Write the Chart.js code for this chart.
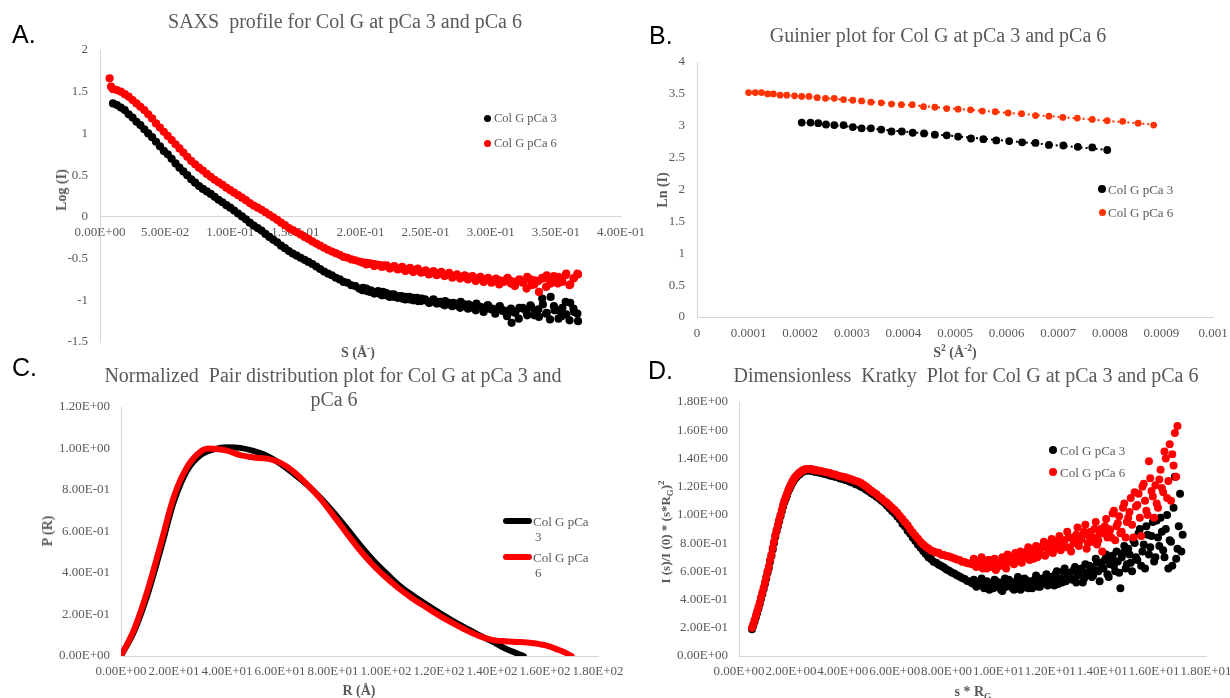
<!DOCTYPE html>
<html>
<head>
<meta charset="utf-8">
<script src="https://cdn.jsdelivr.net/npm/chart.js@4.4.1/dist/chart.umd.min.js"></script>
<style>
  html, body { margin: 0; padding: 0; background: #fff; }
  body { width: 1230px; height: 698px; position: relative; overflow: hidden; font-family: 'Liberation Serif', 'Times New Roman', serif; }
  canvas { position: absolute; }
  .t { position: absolute; transform: translate(-50%, -50%); white-space: pre; color: #595959; line-height: 1; }
  .title { font-size: 20px; }
  .ax { font-size: 14px; font-weight: bold; }
  .vert { transform: translate(-50%, -50%) rotate(-90deg); }
  .tag { position: absolute; font-family: 'Liberation Sans', Arial, sans-serif; font-size: 25px; color: #000; transform: translateY(-50%); line-height: 1; }
  .leg { position: absolute; font-size: 13px; color: #595959; white-space: nowrap; line-height: 1; transform: translateY(-50%); }
  .dot { position: absolute; border-radius: 50%; }
  .bar { position: absolute; height: 6px; border-radius: 3px; }
  sup, sub { font-size: 68%; line-height: 0; }
</style>
</head>
<body>

<canvas id="chartA" width="660" height="360" style="left:0;top:0"></canvas>
<canvas id="chartB" width="590" height="360" style="left:640px;top:0"></canvas>
<canvas id="chartC" width="660" height="338" style="left:0;top:360px"></canvas>
<canvas id="chartD" width="590" height="338" style="left:640px;top:360px"></canvas>

<!-- panel letters -->
<div class="tag" style="left:12px;top:34px">A.</div>
<div class="tag" style="left:649px;top:35px">B.</div>
<div class="tag" style="left:12px;top:367px">C.</div>
<div class="tag" style="left:648px;top:370px">D.</div>

<!-- titles -->
<div class="t title" style="left:345px;top:21px">SAXS  profile for Col G at pCa 3 and pCa 6</div>
<div class="t title" style="left:938px;top:35px">Guinier plot for Col G at pCa 3 and pCa 6</div>
<div class="t title" style="left:333px;top:375px">Normalized  Pair distribution plot for Col G at pCa 3 and</div>
<div class="t title" style="left:334px;top:399px">pCa 6</div>
<div class="t title" style="left:966px;top:375px">Dimensionless  Kratky  Plot for Col G at pCa 3 and pCa 6</div>

<!-- axis titles -->
<div class="t ax vert" style="left:62px;top:190px">Log (I)</div>
<div class="t ax" style="left:358px;top:353px">S (Å<sup>-</sup>)</div>
<div class="t ax vert" style="left:663px;top:190px">Ln (I)</div>
<div class="t ax" style="left:955px;top:353px">S<sup>2</sup> (Å<sup>-2</sup>)</div>
<div class="t ax vert" style="left:48px;top:531px">P (R)</div>
<div class="t ax" style="left:359px;top:691px">R (Å)</div>
<div class="t ax vert" style="left:665px;top:532px;font-size:13px">I (s)/I (0) * (s*R<sub>G</sub>)<sup>2</sup></div>
<div class="t ax" style="left:973px;top:692px">s * R<sub>G</sub></div>

<!-- legends -->
<div class="dot" style="left:483.5px;top:114.5px;width:7px;height:7px;background:#000"></div>
<div class="leg" style="left:494px;top:118px;font-size:12.5px">Col G pCa 3</div>
<div class="dot" style="left:483.5px;top:139.5px;width:7px;height:7px;background:#ff0000"></div>
<div class="leg" style="left:494px;top:143px;font-size:12.5px">Col G pCa 6</div>

<div class="dot" style="left:1098px;top:185px;width:8px;height:8px;background:#000"></div>
<div class="leg" style="left:1108px;top:189px">Col G pCa 3</div>
<div class="dot" style="left:1098.5px;top:208.5px;width:7px;height:7px;background:#ff3300"></div>
<div class="leg" style="left:1108px;top:212px">Col G pCa 6</div>

<div class="bar" style="left:503px;top:518px;width:29px;background:#000"></div>
<div class="leg" style="left:533px;top:521px">Col G pCa</div>
<div class="leg" style="left:535px;top:536px">3</div>
<div class="bar" style="left:503px;top:554px;width:29px;background:#ff0000"></div>
<div class="leg" style="left:533px;top:557px">Col G pCa</div>
<div class="leg" style="left:535px;top:572px">6</div>

<div class="dot" style="left:1049px;top:446px;width:8px;height:8px;background:#000"></div>
<div class="leg" style="left:1060px;top:450px">Col G pCa 3</div>
<div class="dot" style="left:1049px;top:468px;width:8px;height:8px;background:#ff0000"></div>
<div class="leg" style="left:1060px;top:472px">Col G pCa 6</div>

<script>
// ---------- SAXS profile: log intensity against scattering vector S ----------
const saxsS = [
  0.010,0.013,0.016,0.019,0.022,0.025,0.028,0.031,0.034,0.037,
  0.040,0.043,0.046,0.049,0.052,0.055,0.058,0.061,0.064,0.067,
  0.070,0.073,0.076,0.079,0.082,0.085,0.088,0.091,0.094,0.097,
  0.100,0.103,0.106,0.109,0.112,0.115,0.118,0.121,0.124,0.127,
  0.130,0.133,0.136,0.139,0.142,0.145,0.148,0.151,0.154,0.157,
  0.160,0.163,0.166,0.169,0.172,0.175,0.178,0.181,0.184,0.187,
  0.190,0.193,0.196,0.199,0.202,0.205,0.208,0.211,0.214,0.217,
  0.220,0.223,0.226,0.229,0.232,0.235,0.238,0.241,0.244,0.247,
  0.250,0.253,0.256,0.259,0.262,0.265,0.268,0.271,0.274,0.277,
  0.280,0.283,0.286,0.289,0.292,0.295,0.298,0.301,0.304,0.307,
  0.310,0.313,0.316,0.319,0.322,0.325,0.328,0.331,0.334,0.337,
  0.340,0.343,0.346,0.349,0.352,0.355,0.358,0.361,0.364,0.367
];
const saxsLogI3 = [
  1.36,1.34,1.31,1.28,1.23,1.19,1.14,1.10,1.05,1.00,
  0.955,0.90,0.845,0.79,0.75,0.695,0.64,0.59,0.545,0.50,
  0.45,0.41,0.37,0.335,0.305,0.275,0.24,0.205,0.175,0.14,
  0.11,0.075,0.04,0.005,-0.03,-0.07,-0.105,-0.135,-0.165,-0.205,
  -0.24,-0.275,-0.305,-0.345,-0.375,-0.41,-0.44,-0.465,-0.49,-0.515,
  -0.54,-0.565,-0.595,-0.625,-0.655,-0.68,-0.70,-0.73,-0.75,-0.78,
  -0.79,-0.82,-0.83,-0.86,-0.85,-0.89,-0.88,-0.91,-0.92,-0.90,
  -0.94,-0.93,-0.96,-0.95,-0.98,-0.96,-0.99,-0.97,-1.01,-0.98,
  -1.00,-1.03,-0.99,-1.02,-1.04,-1.01,-1.05,-1.03,-1.06,-1.02,
  -1.07,-1.05,-1.09,-1.04,-1.08,-1.11,-1.06,-1.10,-1.13,-1.07,
  -1.12,-1.16,-1.27,-1.14,-1.09,-1.10,-1.18,-1.08,-1.13,-1.20,
  -1.05,-1.15,-0.96,-1.12,-1.22,-1.09,-1.17,-1.03,-1.14,-1.25
];
// pCa 6 has two extra low-angle points ahead of the common grid
const saxsLeadS6 = [0.0074, 0.0085];
const saxsLeadLogI6 = [1.66, 1.56];
const saxsLogI6 = [
  1.53,1.52,1.50,1.47,1.44,1.40,1.36,1.32,1.28,1.23,
  1.18,1.12,1.07,1.02,0.97,0.92,0.87,0.82,0.77,0.72,
  0.67,0.63,0.59,0.555,0.515,0.48,0.445,0.415,0.385,0.35,
  0.32,0.29,0.26,0.23,0.20,0.165,0.135,0.11,0.085,0.055,
  0.025,-0.005,-0.035,-0.07,-0.10,-0.135,-0.16,-0.185,-0.21,-0.24,
  -0.265,-0.295,-0.32,-0.345,-0.37,-0.395,-0.415,-0.435,-0.455,-0.48,
  -0.49,-0.51,-0.52,-0.535,-0.545,-0.55,-0.56,-0.565,-0.575,-0.58,
  -0.58,-0.61,-0.59,-0.62,-0.60,-0.63,-0.61,-0.64,-0.62,-0.66,
  -0.64,-0.67,-0.65,-0.68,-0.66,-0.70,-0.67,-0.71,-0.69,-0.72,
  -0.70,-0.72,-0.71,-0.74,-0.72,-0.75,-0.73,-0.77,-0.74,-0.76,
  -0.78,-0.73,-0.77,-0.80,-0.75,-0.78,-0.72,-0.82,-0.76,-0.90,
  -0.74,-0.70,-0.80,-0.76,-0.72,-0.78,-0.68,-0.81,-0.73,-0.69
];
// in-between wide-angle points, where the signal gets noisy
const saxsTailS = [
  0.2015,0.2045,0.2075,0.2105,0.2135,0.2165,0.2195,0.2225,0.2255,0.2285,
  0.2315,0.2345,0.2375,0.2405,0.2435,0.2465,0.2495,0.2525,0.2555,0.2585,
  0.2615,0.2645,0.2675,0.2705,0.2735,0.2765,0.2795,0.2825,0.2855,0.2885,
  0.2915,0.2945,0.2975,0.3005,0.3035,0.3065,0.3095,0.3125,0.3155,0.3185,
  0.3215,0.3245,0.3275,0.3305,0.3335,0.3365,0.3395,0.3425,0.3455,0.3485,
  0.3515,0.3545,0.3575,0.3605,0.3635,0.3665
];
const saxsTailLogI3 = [
  -0.88,-0.86,-0.90,-0.92,-0.89,-0.94,-0.91,-0.96,-0.93,-0.97,
  -0.95,-0.99,-0.96,-1.00,-0.97,-1.01,-0.99,-1.03,-1.00,-1.04,
  -1.02,-1.06,-1.03,-1.07,-1.04,-1.09,-1.05,-1.10,-1.07,-1.12,
  -1.08,-1.14,-1.06,-1.11,-1.16,-1.08,-1.13,-1.19,-1.10,-1.15,
  -1.22,-1.09,-1.14,-1.06,-1.18,-1.11,-0.98,-1.16,-1.23,-1.07,
  -1.12,-1.19,-1.02,-1.24,-1.10,-1.16
];
const saxsTailLogI6 = [
  -0.55,-0.57,-0.56,-0.59,-0.58,-0.60,-0.59,-0.62,-0.60,-0.63,
  -0.62,-0.65,-0.63,-0.66,-0.64,-0.67,-0.66,-0.69,-0.67,-0.70,
  -0.68,-0.71,-0.69,-0.73,-0.70,-0.74,-0.72,-0.75,-0.73,-0.77,
  -0.74,-0.78,-0.75,-0.79,-0.76,-0.81,-0.77,-0.74,-0.80,-0.83,
  -0.76,-0.79,-0.86,-0.75,-0.81,-0.77,-0.73,-0.84,-0.78,-0.71,
  -0.80,-0.75,-0.70,-0.82,-0.74,-0.68
];

// ---------- Guinier region: ln I against S^2 ----------
const guinS2_3 = [
  0.000203,0.000220,0.000235,0.000250,0.000266,0.000284,0.000302,0.000319,0.000337,0.000357,
  0.000377,0.000397,0.000418,0.000440,0.000461,0.000484,0.000506,0.000531,0.000555,0.000580,
  0.000605,0.000630,0.000656,0.000682,0.000710,0.000738,0.000766,0.000795
];
const guinLnI3 = [
  3.05,3.05,3.04,3.02,3.01,3.01,2.98,2.96,2.96,2.94,
  2.91,2.91,2.89,2.88,2.86,2.85,2.83,2.80,2.79,2.77,
  2.76,2.74,2.73,2.70,2.69,2.67,2.66,2.62
];
const guinS2_6 = [
  0.000100,0.000113,0.000125,0.000137,0.000148,0.000161,0.000174,0.000189,0.000203,0.000217,
  0.000233,0.000249,0.000266,0.000284,0.000302,0.000319,0.000337,0.000357,0.000377,0.000396,
  0.000417,0.000439,0.000461,0.000484,0.000506,0.000530,0.000553,0.000578,0.000603,0.000629,
  0.000656,0.000682,0.000709,0.000737,0.000766,0.000795,0.000825,0.000855,0.000885
];
const guinLnI6 = [
  3.52,3.52,3.52,3.50,3.50,3.48,3.48,3.47,3.46,3.46,
  3.44,3.43,3.43,3.41,3.40,3.39,3.37,3.36,3.34,3.33,
  3.33,3.30,3.29,3.27,3.26,3.25,3.23,3.22,3.20,3.19,
  3.16,3.15,3.13,3.12,3.10,3.08,3.07,3.04,3.01
];

// ---------- Normalized pair distribution P(R) ----------
const pdfR3 = [0,5,10,15,20,25,30,35,40,45,50,55,60,65,70,75,80,85,90,95,100,105,110,115,120,125,130,135,140,145,150,152];
const pdfP3 = [0,0.12,0.295,0.515,0.745,0.895,0.968,0.996,1.006,1.003,0.988,0.965,0.928,0.88,0.828,0.766,
               0.695,0.618,0.538,0.464,0.400,0.340,0.293,0.25,0.209,0.171,0.136,0.101,0.071,0.036,0.010,0];
const pdfR6 = [0,5,10,15,20,25,30,33,36,40,45,50,55,60,65,70,75,80,85,90,95,100,105,110,115,120,125,130,135,140,145,150,155,160,165,168,170];
const pdfP6 = [0,0.13,0.315,0.54,0.77,0.912,0.985,1.0,0.998,0.99,0.968,0.957,0.951,0.932,0.89,0.83,0.762,0.68,0.594,
               0.512,0.44,0.378,0.324,0.277,0.236,0.196,0.16,0.126,0.097,0.078,0.071,0.068,0.063,0.052,0.03,0.014,0];

// ---------- Dimensionless Kratky: I(s)/I(0)*(s*Rg)^2 against s*Rg ----------
const kratkyX = [
  0.50,0.55,0.60,0.65,0.70,0.75,0.80,0.85,0.90,0.95,
  1.00,1.05,1.10,1.15,1.20,1.25,1.30,1.35,1.40,1.45,
  1.50,1.55,1.60,1.65,1.70,1.75,1.80,1.85,1.90,1.95,
  2.00,2.05,2.10,2.15,2.20,2.25,2.30,2.35,2.40,2.45,
  2.50,2.55,2.60,2.65,2.70,2.75,2.80,2.85,2.90,2.95,
  3.00,
  3.1,3.2,3.3,3.4,3.5,3.6,3.7,3.8,3.9,4.0,
  4.1,4.2,4.3,4.4,4.5,4.6,4.7,4.8,4.9,5.0,
  5.1,5.2,5.3,5.4,5.5,5.6,5.7,5.8,5.9,6.0,
  6.1,6.2,6.3,6.4,6.5,6.6,6.7,6.8,6.9,7.0,
  7.1,7.2,7.3,7.4,7.5,7.6,7.7,7.8,7.9,8.0,
  8.1,8.2,8.3,8.4,8.5,8.6,8.7,8.8,8.9,9.0,
  9.1,9.2,9.3,9.4,9.5,9.6,9.7,9.8,9.9,10.0,
  10.1,10.2,10.3,10.4,10.5,10.6,10.7,10.8,10.9,11.0,
  11.1,11.2,11.3,11.4,11.5,11.6,11.7,11.8,11.9,12.0,
  12.1,12.2,12.3,12.4,12.5,12.6,12.7,12.8,12.9,13.0,
  13.1,13.2,13.3,13.4,13.5,13.6,13.7,13.8,13.9,14.0,
  14.1,14.2,14.3,14.4,14.5,14.6,14.7,14.8,14.9,15.0,
  15.1,15.2,15.3,15.4,15.5,15.6,15.7,15.8,15.9,16.0,
  16.1,16.2,16.3,16.4,16.5,16.6,16.7,16.8,16.9,17.0,
  17.1
];
const kratky3 = [
  0.19,0.215,0.245,0.275,0.305,0.335,0.37,0.405,0.44,0.475,
  0.51,0.55,0.59,0.625,0.67,0.71,0.755,0.80,0.845,0.885,
  0.92,0.955,0.99,1.025,1.06,1.09,1.115,1.14,1.165,1.185,
  1.205,1.225,1.24,1.255,1.265,1.275,1.285,1.29,1.30,1.305,
  1.31,1.312,1.315,1.316,1.315,1.314,1.312,1.31,1.308,1.305,
  1.302,
  1.30,1.295,1.29,1.287,1.28,1.276,1.27,1.266,1.258,1.255,
  1.248,1.242,1.233,1.227,1.218,1.212,1.20,1.192,1.178,1.168,
  1.154,1.142,1.128,1.117,1.10,1.086,1.066,1.047,1.028,1.011,
  0.988,0.967,0.938,0.917,0.888,0.867,0.838,0.815,0.788,0.768,
  0.744,0.722,0.70,0.688,0.668,0.661,0.646,0.637,0.627,0.613,
  0.604,0.592,0.584,0.572,0.563,0.552,0.546,0.532,0.527,0.514,
  0.52,0.50,0.53,0.51,0.49,0.52,0.50,0.48,0.53,0.51,
  0.47,0.52,0.49,0.54,0.50,0.47,0.53,0.51,0.48,0.55,
  0.50,0.52,0.48,0.54,0.51,0.49,0.55,0.52,0.50,0.56,
  0.53,0.58,0.51,0.55,0.60,0.53,0.57,0.55,0.61,0.52,
  0.58,0.62,0.55,0.59,0.64,0.56,0.61,0.66,0.53,0.63,
  0.68,0.58,0.65,0.71,0.60,0.67,0.48,0.73,0.62,0.76,
  0.66,0.82,0.70,0.87,0.64,0.79,0.92,0.72,0.85,0.67,
  0.96,0.78,0.88,0.70,1.00,0.82,0.64,1.27,0.76,1.15,
  0.86
];
const kratky6 = [
  0.20,0.225,0.255,0.285,0.315,0.345,0.38,0.415,0.45,0.485,
  0.52,0.56,0.60,0.635,0.68,0.72,0.765,0.81,0.855,0.895,
  0.93,0.965,1.00,1.035,1.07,1.10,1.125,1.15,1.175,1.195,
  1.215,1.235,1.25,1.265,1.275,1.285,1.295,1.30,1.31,1.315,
  1.32,1.322,1.325,1.326,1.325,1.325,1.323,1.32,1.32,1.318,
  1.315,
  1.312,1.31,1.304,1.30,1.296,1.29,1.286,1.28,1.274,1.27,
  1.266,1.259,1.255,1.248,1.241,1.234,1.226,1.214,1.201,1.186,
  1.171,1.158,1.146,1.129,1.116,1.099,1.086,1.068,1.051,1.034,
  1.016,0.993,0.971,0.948,0.926,0.899,0.876,0.853,0.831,0.808,
  0.791,0.774,0.761,0.748,0.741,0.733,0.731,0.718,0.716,0.708,
  0.706,0.698,0.691,0.684,0.681,0.668,0.666,0.658,0.656,0.648,
  0.66,0.64,0.67,0.62,0.65,0.68,0.63,0.66,0.61,0.67,
  0.64,0.69,0.62,0.67,0.70,0.65,0.68,0.72,0.66,0.70,
  0.74,0.68,0.72,0.76,0.70,0.74,0.78,0.71,0.76,0.80,
  0.73,0.78,0.82,0.75,0.80,0.77,0.84,0.74,0.81,0.86,
  0.78,0.83,0.88,0.76,0.85,0.81,0.90,0.79,0.87,0.74,
  0.92,0.84,0.89,1.01,0.82,0.94,0.87,1.05,0.84,0.98,
  1.12,0.84,1.06,1.15,0.85,1.22,1.03,1.38,1.17,0.98,
  1.08,1.25,1.19,1.45,1.12,1.50,1.43,1.58,1.63
];
// in-between points of the noisy high s*Rg region
const kratkyTailX = [
  9.05,9.15,9.25,9.35,9.45,9.55,9.65,9.75,9.85,9.95,
  10.05,10.15,10.25,10.35,10.45,10.55,10.65,10.75,10.85,10.95,
  11.05,11.15,11.25,11.35,11.45,11.55,11.65,11.75,11.85,11.95,
  12.05,12.15,12.25,12.35,12.45,12.55,12.65,12.75,12.85,12.95,
  13.05,13.15,13.25,13.35,13.45,13.55,13.65,13.75,13.85,13.95,
  14.05,14.15,14.25,14.35,14.45,14.55,14.65,14.75,14.85,14.95,
  15.05,15.15,15.25,15.35,15.45,15.55,15.65,15.75,15.85,15.95,
  16.05,16.15,16.25,16.35,16.45,16.55,16.65,16.75,16.85,16.95,
  17.05
];
const kratkyTail3 = [
  0.54,0.49,0.51,0.55,0.48,0.53,0.47,0.51,0.54,0.49,
  0.52,0.46,0.55,0.50,0.53,0.48,0.51,0.56,0.47,0.52,
  0.54,0.48,0.53,0.50,0.57,0.49,0.52,0.55,0.58,0.51,
  0.56,0.50,0.60,0.54,0.52,0.62,0.56,0.59,0.54,0.63,
  0.57,0.61,0.52,0.65,0.59,0.63,0.57,0.69,0.60,0.66,
  0.62,0.72,0.56,0.68,0.64,0.74,0.59,0.70,0.78,0.65,
  0.72,0.60,0.80,0.68,0.90,0.74,0.62,0.86,0.77,0.95,
  0.70,0.84,0.98,0.75,0.90,0.62,0.81,1.05,0.69,0.92,
  0.74
];
const kratkyTail6 = [
  0.69,0.63,0.66,0.70,0.64,0.62,0.68,0.65,0.69,0.63,
  0.67,0.70,0.65,0.72,0.68,0.66,0.73,0.69,0.74,0.71,
  0.70,0.77,0.73,0.69,0.78,0.75,0.72,0.81,0.77,0.74,
  0.83,0.76,0.80,0.85,0.78,0.82,0.88,0.77,0.84,0.80,
  0.91,0.82,0.86,0.93,0.80,0.88,0.84,0.95,0.82,0.90,
  0.87,0.97,0.90,0.84,1.03,0.92,0.99,0.88,1.08,0.95,
  1.02,0.93,1.16,1.07,0.98,1.20,1.10,1.00,1.26,1.13,
  1.21,1.05,1.32,1.16,1.40,1.24,1.10,1.35,1.27
];

// ---------- shared styling ----------
const TEXT_GREY = '#595959';
const AXIS_GREY = '#d6d6d6';
const BLACK = '#000000';
const RED = '#ff0000';
const GUINIER_RED = '#ff3300';

// Excel-style scientific tick labels, e.g. 2.00E+01
function sci(v) {
  if (Math.abs(v) < 1e-12) return '0.00E+00';
  const parts = Number(v).toExponential(2).split('e');
  const exp = parseInt(parts[1], 10);
  return parts[0] + 'E' + (exp < 0 ? '-' : '+') + String(Math.abs(exp)).padStart(2, '0');
}
function plain(v) { return String(+Number(v).toFixed(4)); }

function pairs(xs, ys) { return ys.map((y, i) => ({ x: xs[i], y })); }

function axis(o) {
  const cfg = {
    type: 'linear',
    min: o.min, max: o.max,
    grid: { display: false, drawTicks: false },
    border: { display: true, color: AXIS_GREY, width: 1 },
    ticks: {
      stepSize: o.step, autoSkip: false, maxRotation: 0, minRotation: 0,
      padding: o.pad, color: TEXT_GREY,
      font: { family: "'Liberation Serif', 'Times New Roman', serif", size: 13 },
      callback: (v) => o.fmt(v)
    },
    afterFit(scale) {
      if (o.size != null) {
        if (scale.isHorizontal()) scale.height = o.size; else scale.width = o.size;
      }
      scale.paddingLeft = 0; scale.paddingRight = 0;
      scale.paddingTop = 0; scale.paddingBottom = 0;
    }
  };
  if (o.position) cfg.position = o.position;
  return cfg;
}

function build(id, datasets, xScale, yScale, padding) {
  return new Chart(document.getElementById(id), {
    type: 'scatter',
    data: { datasets },
    options: {
      responsive: false, animation: false, devicePixelRatio: 1, events: [],
      layout: { padding, autoPadding: false },
      plugins: { legend: { display: false }, tooltip: { enabled: false }, title: { display: false } },
      scales: { x: xScale, y: yScale }
    }
  });
}

function markers(label, data, color, radius, order) {
  return { label, data, showLine: false, pointRadius: radius, pointBorderWidth: 0,
           pointBackgroundColor: color, pointBorderColor: color, order };
}

// least-squares line through the Guinier points, spanning their S^2 range
function trend(xs, ys) {
  const n = xs.length;
  let sx = 0, sy = 0, sxx = 0, sxy = 0;
  for (let i = 0; i < n; i++) { sx += xs[i]; sy += ys[i]; sxx += xs[i] * xs[i]; sxy += xs[i] * ys[i]; }
  const b = (n * sxy - sx * sy) / (n * sxx - sx * sx);
  const a = (sy - b * sx) / n;
  const x0 = Math.min(...xs), x1 = Math.max(...xs);
  return [{ x: x0, y: a + b * x0 }, { x: x1, y: a + b * x1 }];
}

// ---------- A: SAXS profile ----------
build('chartA',
  [
    markers('Col G pCa 6',
      pairs(saxsLeadS6, saxsLeadLogI6).concat(pairs(saxsS, saxsLogI6), pairs(saxsTailS, saxsTailLogI6)),
      RED, 4.1, 0),
    markers('Col G pCa 3',
      pairs(saxsS, saxsLogI3).concat(pairs(saxsTailS, saxsTailLogI3)),
      BLACK, 4.1, 1)
  ],
  axis({ min: 0, max: 0.4, step: 0.05, pad: 8, fmt: sci, position: { y: 0 } }),
  axis({ min: -1.5, max: 2, step: 0.5, pad: 12, fmt: plain, size: 100 }),
  { left: 0, top: 50, right: 39, bottom: 18 }
);

// ---------- B: Guinier plot ----------
build('chartB',
  [
    markers('Col G pCa 6', pairs(guinS2_6, guinLnI6), GUINIER_RED, 3.4, 0),
    markers('Col G pCa 3', pairs(guinS2_3, guinLnI3), BLACK, 3.9, 1),
    { label: 'fit pCa 6', data: trend(guinS2_6, guinLnI6), showLine: true, pointRadius: 0,
      borderColor: GUINIER_RED, borderWidth: 2, borderDash: [2, 3], order: 2 },
    { label: 'fit pCa 3', data: trend(guinS2_3, guinLnI3), showLine: true, pointRadius: 0,
      borderColor: BLACK, borderWidth: 2, borderDash: [2, 3], order: 3 }
  ],
  axis({ min: 0, max: 0.001, step: 0.0001, pad: 9, fmt: plain, size: 43 }),
  axis({ min: 0, max: 4, step: 0.5, pad: 12, fmt: plain, size: 57 }),
  { left: 0, top: 62, right: 17, bottom: 0 }
);

// ---------- C: pair distribution ----------
function pdfLine(label, data, color, order) {
  return { label, data, showLine: true, pointRadius: 0, borderColor: color, borderWidth: 6,
           cubicInterpolationMode: 'monotone', borderCapStyle: 'round', borderJoinStyle: 'round', order };
}
build('chartC',
  [
    pdfLine('Col G pCa 6', pairs(pdfR6, pdfP6), RED, 0),
    pdfLine('Col G pCa 3', pairs(pdfR3, pdfP3), BLACK, 1)
  ],
  axis({ min: 0, max: 180, step: 20, pad: 8, fmt: sci, size: 42 }),
  axis({ min: 0, max: 1.2, step: 0.2, pad: 11, fmt: sci, size: 121 }),
  { left: 0, top: 47, right: 62, bottom: 0 }
);

// ---------- D: dimensionless Kratky ----------
build('chartD',
  [
    markers('Col G pCa 6',
      pairs(kratkyX, kratky6).concat(pairs(kratkyTailX, kratkyTail6)), RED, 4, 0),
    markers('Col G pCa 3',
      pairs(kratkyX, kratky3).concat(pairs(kratkyTailX, kratkyTail3)), BLACK, 4, 1)
  ],
  axis({ min: 0, max: 18, step: 2, pad: 8, fmt: sci, size: 42 }),
  axis({ min: 0, max: 1.8, step: 0.2, pad: 11, fmt: sci, size: 99 }),
  { left: 0, top: 42, right: 24, bottom: 0 }
);
</script>
</body>
</html>
